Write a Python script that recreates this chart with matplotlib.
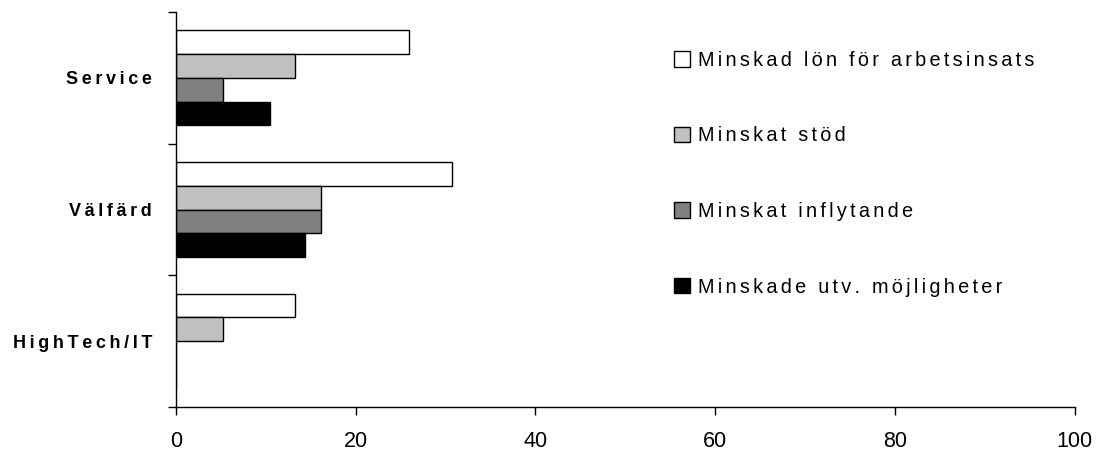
import numpy as np
import matplotlib.pyplot as plt

plt.rcParams['font.family'] = ['Liberation Sans', 'DejaVu Sans']

categories = ['Service', 'Välfärd', 'HighTech/IT']
series_names = ['Minskad lön för arbetsinsats', 'Minskat stöd',
                'Minskat inflytande', 'Minskade utv. möjligheter']
lon = [25.9, 30.7, 13.2]
stod = [13.2, 16.2, 5.3]
inflytande = [5.2, 16.2, 0]
utveckling = [10.5, 14.4, 0]
xticks = [0, 20, 40, 60, 80, 100]

values = [lon, stod, inflytande, utveckling]
colors = ['#ffffff', '#c0c0c0', '#808080', '#000000']


def spaced(s, sep='\u2009'):
    # wider letter spacing
    return sep.join(s)


fig = plt.figure(figsize=(10.99, 4.55), dpi=100)
ax = fig.add_axes([0.160, 0.1055, 0.818, 0.868])

n = len(categories)
bar_h = 0.18
ypos = np.arange(n)[::-1].astype(float)  # top category first
for i, (vals, c) in enumerate(zip(values, colors)):
    offs = (1.5 - i) * bar_h
    ax.barh(ypos + offs, vals, height=bar_h, color=c, edgecolor='black',
            linewidth=1.0, label=spaced(series_names[i], '\u200a\u200a'))

ax.set_xlim(0, 100)
ax.set_ylim(-0.5, n - 0.5)
ax.set_xticks(xticks)
ax.set_xticklabels([str(t) for t in xticks], fontsize=15.5)
ax.tick_params(axis='x', direction='out', length=6, width=1, pad=11.5)

# category labels in the middle, ticks on the boundaries
ax.set_yticks(np.arange(n + 1) - 0.5)
ax.set_yticklabels([])
ax.tick_params(axis='y', direction='out', length=6, width=1)
ax.set_yticks(ypos, minor=True)
ax.set_yticklabels([spaced(c) for c in categories], minor=True,
                   fontsize=13, fontweight='bold')
ax.tick_params(axis='y', which='minor', length=0, pad=17)

for side in ['top', 'right']:
    ax.spines[side].set_visible(False)
for side in ['left', 'bottom']:
    ax.spines[side].set_linewidth(1)

fig.legend(loc='upper left', bbox_to_anchor=(0.606, 0.906), frameon=False,
           fontsize=14.3, handlelength=0.82, handleheight=0.82,
           handletextpad=0.4, labelspacing=2.85, borderaxespad=0)

fig.savefig('out.png', dpi=100)
